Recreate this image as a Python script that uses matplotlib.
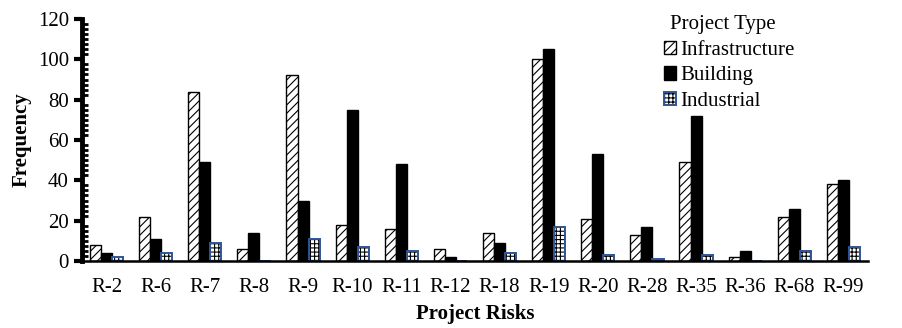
import numpy as np
import matplotlib
matplotlib.use('Agg')
from matplotlib import pyplot as plt
from matplotlib.ticker import MultipleLocator

# data
risks = ['R-2', 'R-6', 'R-7', 'R-8', 'R-9', 'R-10', 'R-11', 'R-12',
         'R-18', 'R-19', 'R-20', 'R-28', 'R-35', 'R-36', 'R-68', 'R-99']
infrastructure = [8, 22, 84, 6, 92, 18, 16, 6, 14, 100, 21, 13, 49, 2, 22, 38]
building = [4, 11, 49, 14, 30, 75, 48, 2, 9, 105, 53, 17, 72, 5, 26, 40]
industrial = [2, 4, 9, 0, 11, 7, 5, 0, 4, 17, 3, 1, 3, 0, 5, 7]

plt.rcParams['font.family'] = ['Liberation Serif', 'DejaVu Serif']
plt.rcParams['hatch.linewidth'] = 0.8

fig = plt.figure(figsize=(9.02, 3.28), dpi=100)
ax = fig.add_axes([82/902, 1-261/328, 786/902, 242/328])

x = np.arange(len(risks))
w = 0.225
blue = '#2f5597'

b1 = ax.bar(x - w, infrastructure, w, color='white', edgecolor='black',
            hatch='////', linewidth=1.0, label='Infrastructure')
b2 = ax.bar(x, building, w, color='black', edgecolor='black',
            linewidth=1.0, label='Building')
# industrial: black dotted fill with a blue outline
b3f = ax.bar(x + w, industrial, w, color='white', edgecolor='black',
             hatch='++++', linewidth=0)
b3 = ax.bar(x + w, industrial, w, color='none', edgecolor=blue,
            linewidth=1.4, label='Industrial')

ax.set_xlim(-0.5, len(risks) - 0.5)
ax.set_ylim(0, 120)
ax.set_xticks(x)
ax.set_xticklabels(risks, fontsize=15)
ax.yaxis.set_major_locator(MultipleLocator(20))
ax.yaxis.set_minor_locator(MultipleLocator(2.5))
ax.tick_params(axis='y', which='major', labelsize=15, length=6, width=3,
               direction='out')
ax.tick_params(axis='y', which='minor', length=4, width=2,
               direction='in')
ax.tick_params(axis='x', length=0, pad=12)

for s in ['top', 'right']:
    ax.spines[s].set_visible(False)
ax.spines['left'].set_linewidth(3.5)
ax.spines['bottom'].set_linewidth(1.8)

ax.set_ylabel('Frequency', fontsize=15, fontweight='bold', labelpad=4)
ax.set_xlabel('Project Risks', fontsize=15, fontweight='bold', labelpad=5)

leg = ax.legend(handles=[b1, b2, (b3f, b3)],
                labels=['Infrastructure', 'Building', 'Industrial'],
                title='Project Type', loc='upper right',
                bbox_to_anchor=(0.92, 1.06), frameon=False, fontsize=15,
                title_fontsize=15, handlelength=0.6, handleheight=0.6,
                handletextpad=0.2, labelspacing=0.32, borderpad=0)
leg._legend_box.align = 'left'
leg.get_title().set_position((6, 0))

fig.savefig('out.png', dpi=100)
